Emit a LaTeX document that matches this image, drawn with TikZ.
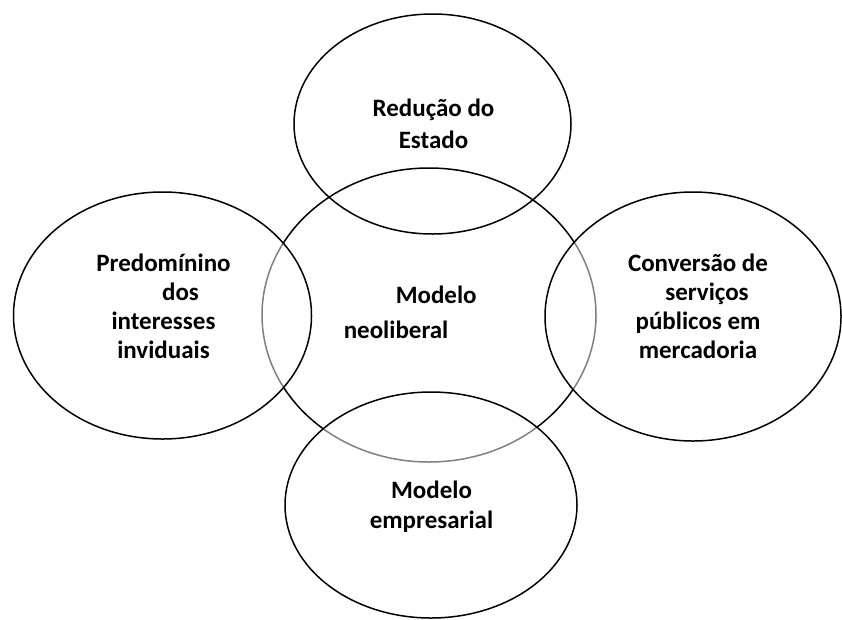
\documentclass[tikz,border=0pt]{standalone}
\usepackage{fontspec}
\setmainfont{Carlito}

\begin{document}
\begin{tikzpicture}[x=1pt,y=-1pt,line width=1.5pt,
    txt/.style={font=\bfseries\fontsize{25}{30}\selectfont,align=center,inner sep=0pt,anchor=base},
    veil/.style={fill=white,fill opacity=0.5}]
  \useasboundingbox (0,0) rectangle (842,619);
  \coordinate (T) at (432.5,124);
  \coordinate (M) at (429,315);
  \coordinate (L) at (162.5,315.5);
  \coordinate (R) at (693,316.5);
  \coordinate (B) at (431,505);
  % circles
  \draw (T) ellipse [x radius=138.5,y radius=110];
  \draw (M) ellipse [x radius=167,y radius=147];
  \draw[veil] (L) ellipse [x radius=149,y radius=123.5];
  \draw[veil] (R) ellipse [x radius=148,y radius=124.5];
  \draw[veil] (B) ellipse [x radius=146,y radius=113];
  % texts (anchored at the baseline of the last line)
  \node[txt,font=\bfseries\fontsize{25}{31.6}\selectfont] (estado) at (433.5,148.3) {Redução do\\Estado};
  \node[txt,font=\bfseries\fontsize{25}{35}\selectfont,align=left,anchor=base west] (neolib) at (343,338) {\hspace*{52pt}Modelo\\neoliberal};
  \node[txt,font=\bfseries\fontsize{25}{29}\selectfont] (indiv) at (163.5,358) {Predomínino\\\hspace*{34pt}dos\\interesses\\inviduais};
  \node[txt,font=\bfseries\fontsize{25}{29}\selectfont] (merc) at (698,358) {Conversão de\\\hspace*{18pt}serviços\\públicos em\\mercadoria};
  \node[txt] (empr) at (431.5,528.3) {Modelo\\empresarial};
\end{tikzpicture}
\end{document}
